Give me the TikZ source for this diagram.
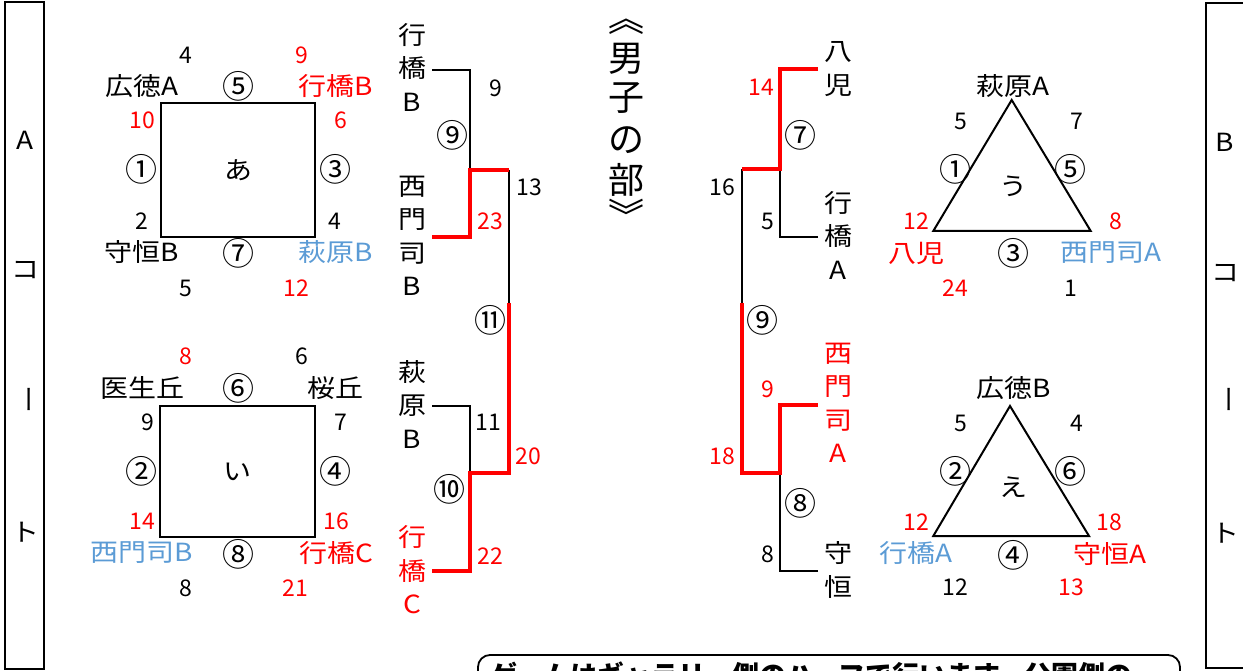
\documentclass[tikz,border=0pt]{standalone}
\usepackage{fontspec}
\setmainfont{Noto Sans CJK JP}
\newfontfamily\jpw[FakeStretch=1.12]{Noto Sans CJK JP}
\definecolor{myred}{RGB}{255,0,0}
\definecolor{myblue}{RGB}{91,155,213}
\begin{document}
\begin{tikzpicture}[x=1pt,y=-1pt,
  every node/.style={inner sep=0pt,outer sep=0pt},
  nm/.style={font=\jpw\fontsize{25}{33.5}\selectfont, align=center},
  nu/.style={font=\fontsize{23}{28}\selectfont},
  ci/.style={font=\fontsize{32}{34}\selectfont},
  ttl/.style={font=\fontsize{36}{40}\selectfont},
  rd/.style={text=myred},
  bl/.style={text=myblue},
  court/.style={draw, line width=1.5pt},
  sq/.style={draw, line width=2.8pt, font=\jpw\fontsize{25}{30}\selectfont},
  tri/.style={draw, line width=2pt, line join=miter},
  thinline/.style={draw, line width=1.8pt},
  winline/.style={draw=myred, line width=4.5pt},
]
\useasboundingbox (0,0) rectangle (1243,671);

% court boxes
\draw[court] (5,2) rectangle (44,669);
\draw[court] (1206,3) rectangle (1252,668);
\node[nm] (ca1) at (25,140) {A};
\node[nm] (ca2) at (25,270) {コ};
\node[nm,rotate=-90] (ca3) at (25,399) {ー};
\node[nm] (ca4) at (25,532) {ト};
\node[nm] (cb1) at (1225,142) {B};
\node[nm] (cb2) at (1225,273) {コ};
\node[nm,rotate=-90] (cb3) at (1225,399) {ー};
\node[nm] (cb4) at (1225,533) {ト};

% title
\node[ttl] (t1) at (626,27) {︽};
\node[ttl] (t2) at (626,59) {男};
\node[ttl] (t3) at (626,98) {子};
\node[ttl] (t4) at (626,140) {の};
\node[ttl] (t5) at (626,180) {部};
\node[ttl] (t6) at (626,214) {︾};

% square A
\node[sq, minimum width=154pt, minimum height=134pt] (sqA) at (238,170) {あ};
\node[nu] (a4) at (186,55) {4};
\node[ci] (a5c) at (238,86) {⑤};
\node[nu,rd] (a9) at (302,55) {9};
\node[nm] (aHA) at (142,86) {広徳A};
\node[nm,rd] (aYB) at (336,86) {行橋B};
\node[nu,rd] (a10) at (142,120) {10};
\node[nu,rd] (a6) at (341,120) {6};
\node[ci] (a1c) at (141,169) {①};
\node[ci] (a3c) at (335,169) {③};
\node[nu] (a2) at (142,221) {2};
\node[nu] (a4b) at (335,221) {4};
\node[nm] (aMB) at (142,252) {守恒B};
\node[ci] (a7c) at (238,253) {⑦};
\node[nm,bl] (aHB) at (336,252) {萩原B};
\node[nu] (a5) at (186,288) {5};
\node[nu,rd] (a12) at (296,288) {12};

% square I
\node[sq, minimum width=155pt, minimum height=131pt] (sqI) at (237.5,471.5) {い};
\node[nu,rd] (i8) at (186,356) {8};
\node[nu] (i6) at (302,356) {6};
\node[nm] (iIS) at (142,388) {医生丘};
\node[ci] (i6c) at (238,388) {⑥};
\node[nm] (iSK) at (335,388) {桜丘};
\node[nu] (i9) at (148,422) {9};
\node[nu] (i7) at (341,422) {7};
\node[ci] (i2c) at (141,471) {②};
\node[ci] (i4c) at (335,471) {④};
\node[nu,rd] (i14) at (142,521) {14};
\node[nu,rd] (i16) at (336,521) {16};
\node[nm,bl] (iNB) at (142,553) {西門司B};
\node[ci] (i8c) at (238,554) {⑧};
\node[nm,rd] (iYC) at (336,553) {行橋C};
\node[nu] (i8b) at (186,588) {8};
\node[nu,rd] (i21) at (295,588) {21};

% left bracket names
\node[nm] (lYB) at (412,67) {行\\橋\\B};
\node[nm] (lNB) at (412,236) {西\\門\\司\\B};
\node[nm] (lHB) at (412,404) {萩\\原\\B};
\node[nm,rd] (lYC) at (412,570) {行\\橋\\C};
\coordinate (p1) at (432,70);
\coordinate (p2) at (432,237);
\coordinate (p3) at (470,170);
\coordinate (p4) at (509,170);
\coordinate (p5) at (509,303);
\coordinate (q1) at (432,406);
\coordinate (q2) at (432,571);
\coordinate (q3) at (470,473);
\coordinate (q4) at (509,473);
\draw[thinline] (p1) -| (p3);
\draw[thinline, line width=1.5pt] (p4) -- (p5);
\draw[thinline] (q1) -| (q3);
\draw[winline] (p2) -| (p3) -- (p4);
\draw[winline] (p5) -- (q4) -- (q3) |- (q2);
\node[nu] (l9) at (496,88) {9};
\node[ci] (l9c) at (452,135) {⑨};
\node[nu] (l13) at (529,187) {13};
\node[nu,rd] (l23) at (490,221) {23};
\node[ci] (l11c) at (490,320) {⑪};
\node[nu] (l11) at (488,422) {11};
\node[nu,rd] (l20) at (528,456) {20};
\node[ci] (l10c) at (449,489) {⑩};
\node[nu,rd] (l22) at (490,556) {22};

% right bracket names
\node[nm] (rHJ) at (838,69) {八\\児};
\node[nm] (rYA) at (838,235) {行\\橋\\A};
\node[nm,rd] (rNA) at (838,403) {西\\門\\司\\A};
\node[nm] (rMK) at (838,570) {守\\恒};
\coordinate (s1) at (818,69);
\coordinate (s2) at (818,237);
\coordinate (s3) at (780,169);
\coordinate (s4) at (742,169);
\coordinate (s5) at (742,303);
\coordinate (u1) at (818,405);
\coordinate (u2) at (818,571);
\coordinate (u3) at (780,473);
\coordinate (u4) at (742,473);
\draw[thinline] (s2) -| (s3);
\draw[thinline, line width=1.5pt] (s4) -- (s5);
\draw[thinline] (u2) -| (u3);
\draw[winline] (s1) -| (s3) -- (s4);
\draw[winline] (s5) -- (u4) -- (u3) |- (u1);
\node[nu,rd] (r14) at (761,87) {14};
\node[ci] (r7c) at (800,135) {⑦};
\node[nu] (r16) at (722,187) {16};
\node[nu] (r5) at (768,221) {5};
\node[ci] (r9c) at (762,320) {⑨};
\node[nu,rd] (r9) at (768,389) {9};
\node[nu,rd] (r18) at (722,456) {18};
\node[ci] (r8c) at (800,503) {⑧};
\node[nu] (r8) at (768,554) {8};

% triangle U
\coordinate (uT) at (1011.7,100);
\coordinate (uL) at (933.3,231);
\coordinate (uR) at (1090.7,231);
\draw[tri] (uT) -- (uL) -- (uR) -- cycle;
\node[nm] (uC) at (1013.5,186) {う};
\node[nm] (uHA) at (1013.5,86) {萩原A};
\node[nu] (u5) at (961,121) {5};
\node[nu] (u7) at (1077,121) {7};
\node[ci] (u1c) at (955,169) {①};
\node[ci] (u5c) at (1070,169) {⑤};
\node[nu,rd] (u12) at (916,221) {12};
\node[nu,rd] (u8) at (1116,221) {8};
\node[nm,rd] (uHJ) at (916,253) {八児};
\node[ci] (u3c) at (1013.5,253) {③};
\node[nm,bl] (uNA) at (1111,253) {西門司A};
\node[nu,rd] (u24) at (955,288) {24};
\node[nu] (u1) at (1071,288) {1};

% triangle E
\coordinate (eT) at (1010,406);
\coordinate (eL) at (933.3,536);
\coordinate (eR) at (1089,536);
\draw[tri] (eT) -- (eL) -- (eR) -- cycle;
\node[nm] (eC) at (1013.5,487) {え};
\node[nm] (eHB) at (1013.5,388) {広徳B};
\node[nu] (e5) at (961,423) {5};
\node[nu] (e4) at (1077,423) {4};
\node[ci] (e2c) at (955,471) {②};
\node[ci] (e6c) at (1070,471) {⑥};
\node[nu,rd] (e12) at (916,522) {12};
\node[nu,rd] (e18) at (1109,522) {18};
\node[nm,bl] (eYA) at (916,553) {行橋A};
\node[ci] (e4c) at (1013.5,555) {④};
\node[nm,rd] (eMA) at (1110,554) {守恒A};
\node[nu] (e12b) at (955,587) {12};
\node[nu,rd] (e13) at (1071,587) {13};

% note box (cut off at bottom)
\draw[line width=1.8pt, rounded corners=12pt] (478,700) -- (478,655) -- (1180,655) -- (1180,700);
\node[font=\bfseries\fontsize{27}{30}\selectfont, anchor=base west] (note) at (490,685) {ゲームはギャラリー側のハーフで行います。公園側の};
\end{tikzpicture}
\end{document}
